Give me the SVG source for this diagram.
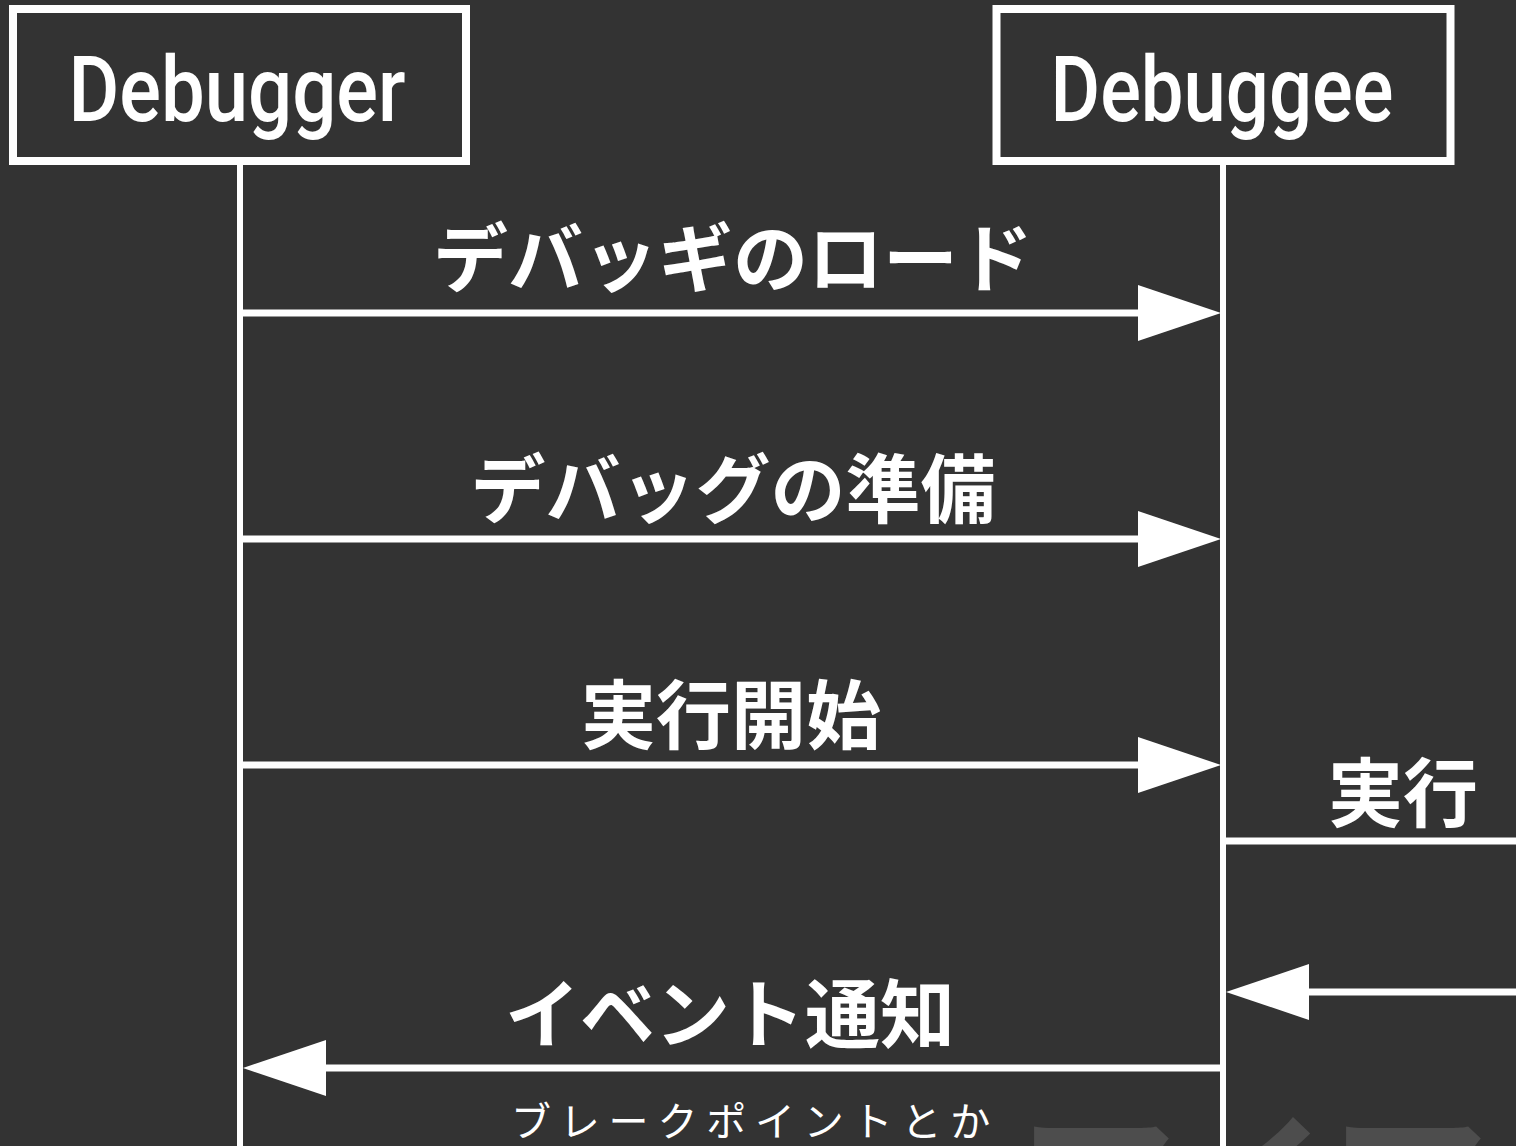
<svg xmlns="http://www.w3.org/2000/svg" width="1516" height="1146" viewBox="0 0 1516 1146">
<style>
.box{fill:#333333;stroke:#ffffff;stroke-width:8}
.name{font-family:Roboto,"Liberation Sans",sans-serif;font-size:90px;font-weight:500;fill:#ffffff;text-anchor:middle}
.life{stroke:#ffffff;stroke-width:6}
.msg{stroke:#ffffff;stroke-width:7;fill:none}
.lbl{font-family:"Noto Sans CJK JP","Noto Sans CJK SC",sans-serif;font-size:75px;font-weight:700;fill:#ffffff;text-anchor:middle}
.sub{font-family:"Noto Sans CJK JP","Noto Sans CJK SC",sans-serif;font-size:40px;font-weight:400;fill:#ffffff;letter-spacing:8.8px}
.bg{font-family:"Noto Sans CJK JP","Noto Sans CJK SC",sans-serif;font-size:160px;font-weight:700;fill:#4d4d4d}
</style>
<defs>
<marker id="head" markerUnits="userSpaceOnUse" markerWidth="84" markerHeight="56" refX="0" refY="28" orient="auto" overflow="visible">
<path d="M0,0 L83,28 L0,56 z" fill="#ffffff"/>
</marker>
</defs>
<rect width="1516" height="1146" fill="#333333"/>
<text class="bg" x="1016" y="1247">アイア</text>
<g id="debugger">
<rect class="box" x="13" y="9" width="453" height="152"/>
<text class="name" x="237" y="121" textLength="337" lengthAdjust="spacingAndGlyphs">Debugger</text>
</g>
<g id="debuggee">
<rect class="box" x="996.5" y="9" width="454" height="152"/>
<text class="name" x="1222" y="121" textLength="343" lengthAdjust="spacingAndGlyphs">Debuggee</text>
</g>
<g id="lifelines">
<line class="life" x1="240" y1="165" x2="240" y2="1146"/>
<line class="life" x1="1223" y1="165" x2="1223" y2="1146"/>
</g>
<g id="connectors">
<line class="msg" x1="240" y1="313" x2="1138" y2="313" marker-end="url(#head)"/>
<line class="msg" x1="240" y1="539" x2="1138" y2="539" marker-end="url(#head)"/>
<line class="msg" x1="240" y1="765" x2="1138" y2="765" marker-end="url(#head)"/>
<line class="msg" x1="1223" y1="841" x2="1516" y2="841"/>
<line class="msg" x1="1516" y1="992" x2="1309" y2="992" marker-end="url(#head)"/>
<line class="msg" x1="1223" y1="1068" x2="326" y2="1068" marker-end="url(#head)"/>
</g>
<g id="labels">
<text class="lbl" x="733" y="286">デバッギのロード</text>
<text class="lbl" x="733" y="517">デバッグの準備</text>
<text class="lbl" x="731" y="743">実行開始</text>
<text class="lbl" x="1403" y="821">実行</text>
<text class="lbl" x="730" y="1042">イベント通知</text>
<text class="sub" x="511" y="1136">ブレークポイントとか</text>
</g>
</svg>
